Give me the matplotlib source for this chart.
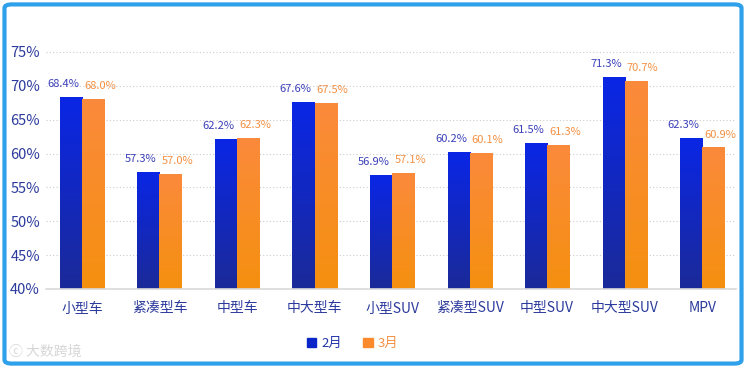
import matplotlib
matplotlib.use("Agg")
import matplotlib.pyplot as plt
import numpy as np
from matplotlib.patches import FancyBboxPatch, Patch
from matplotlib.colors import LinearSegmentedColormap

plt.rcParams['font.family'] = ['Noto Sans CJK SC', 'DejaVu Sans']

categories = ['小型车', '紧凑型车', '中型车', '中大型车', '小型SUV', '紧凑型SUV', '中型SUV', '中大型SUV', 'MPV']
feb = [68.4, 57.3, 62.2, 67.6, 56.9, 60.2, 61.5, 71.3, 62.3]
mar = [68.0, 57.0, 62.3, 67.5, 57.1, 60.1, 61.3, 70.7, 60.9]
series_names = ['2月', '3月']
yticks = [40, 45, 50, 55, 60, 65, 70, 75]

fig = plt.figure(figsize=(7.46, 3.68), dpi=100)
ax = fig.add_axes([0.061, 0.2147, 0.925, 0.681])

x = np.arange(len(categories))
w = 0.285
ymin, ymax = 40, 77

blue_cmap = LinearSegmentedColormap.from_list('b', ['#1b2a98', '#0a26e6'])
orange_cmap = LinearSegmentedColormap.from_list('o', ['#f5900f', '#fb8a3c'])

grad = np.linspace(0, 1, 256).reshape(-1, 1)

def grad_bars(xs, vals, cmap, color):
    bars = ax.bar(xs, [v - ymin for v in vals], w, bottom=ymin, color=color, zorder=2, linewidth=0)
    for b in bars:
        x0, y0 = b.get_x(), b.get_y()
        x1, y1 = x0 + b.get_width(), y0 + b.get_height()
        im = ax.imshow(grad, extent=[x0, x1, y0, y1], origin='lower', aspect='auto',
                       cmap=cmap, zorder=3)
        im.set_clip_path(b)
    return bars

grad_bars(x - w / 2, feb, blue_cmap, '#0a26e6')
grad_bars(x + w / 2, mar, orange_cmap, '#fb8a3c')

for i in range(len(categories)):
    ax.text(x[i] - w / 2 - 0.1, feb[i] + 1.9, f'{feb[i]:.1f}%', ha='center', va='center',
            fontsize=8, color='#3b3fb8', zorder=4)
    ax.text(x[i] + w / 2 + 0.09, mar[i] + 1.9, f'{mar[i]:.1f}%', ha='center', va='center',
            fontsize=8, color='#f39043', zorder=4)

ax.set_xlim(-0.47, 8.43)
ax.set_ylim(ymin, ymax)
ax.set_yticks(yticks)
ax.set_yticklabels([f'{t}%' for t in yticks])
ax.set_xticks(x)
ax.set_xticklabels(categories)
ax.tick_params(axis='y', length=0, labelsize=10.5, labelcolor='#2b3a9c', pad=4)
ax.tick_params(axis='x', length=0, labelsize=10, labelcolor='#2b3a9c', pad=9)
ax.yaxis.grid(True, linestyle=(0, (1, 2)), color='#cccccc', linewidth=0.8, zorder=0)
ax.set_axisbelow(True)
for s in ['top', 'right', 'left']:
    ax.spines[s].set_visible(False)
ax.spines['bottom'].set_color('#d9d9d9')
ax.spines['bottom'].set_linewidth(1.2)
ax.spines['bottom'].set_zorder(5)

# legend
handles = [Patch(color='#0a26c8'), Patch(color='#fb8a2c')]
leg = fig.legend(handles, series_names, loc='center', bbox_to_anchor=(0.473, 0.066), ncol=2,
                 frameon=False, fontsize=9.5, handlelength=0.7, handleheight=0.7,
                 handletextpad=0.4, columnspacing=1.6)
for t, c in zip(leg.get_texts(), ['#2233aa', '#f39043']):
    t.set_color(c)

# watermark
fig.text(0.012, 0.045, 'ⓒ 大数跨境', fontsize=10, color='#bbbbbb', alpha=0.6, va='center')

# frame
frame = FancyBboxPatch((0.006, 0.012), 0.988, 0.976, boxstyle='round,pad=0,rounding_size=0.01',
                       transform=fig.transFigure, fill=False, edgecolor='#2fa0ea', linewidth=3)
fig.patches.append(frame)

fig.savefig('out.png', dpi=100)
